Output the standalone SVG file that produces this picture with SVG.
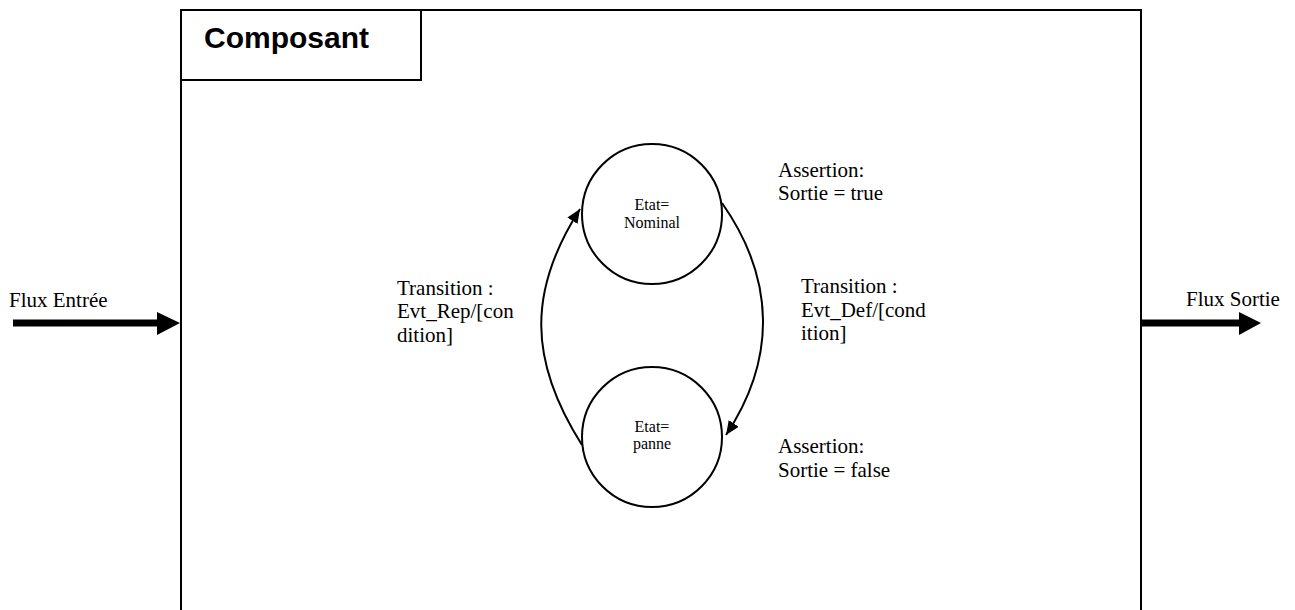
<svg xmlns="http://www.w3.org/2000/svg" width="1295" height="610" viewBox="0 0 1295 610">
<style>
.box{fill:#fff;stroke:#000;stroke-width:2}
.st{fill:#fff;stroke:#000;stroke-width:2}
.t{font-family:"Liberation Serif","Times New Roman",serif;font-size:21px;fill:#000}
.s{font-family:"Liberation Serif","Times New Roman",serif;font-size:16px;fill:#000;text-anchor:middle}
.c{fill:none;stroke:#000;stroke-width:2}
.flux{fill:none;stroke:#000;stroke-width:7}
</style>
<defs>
<marker id="ah" markerUnits="userSpaceOnUse" markerWidth="16" markerHeight="14" refX="14" refY="6" orient="auto">
<path d="M0,0 L14,6 L0,12 z" fill="#000"/>
</marker>
</defs>
<rect width="1295" height="610" fill="#fff"/>
<g id="composant">
<rect class="box" x="181" y="10" width="960" height="640"/>
<rect class="box" x="181" y="10" width="240" height="70"/>
<text x="204" y="48" style="font-family:'Liberation Sans',Arial,sans-serif;font-size:30px;font-weight:bold">Composant</text>
</g>
<g id="nominal">
<circle class="st" cx="652" cy="214" r="70"/>
<text class="s" x="652" y="210">Etat=</text>
<text class="s" x="652" y="228">Nominal</text>
</g>
<g id="panne">
<circle class="st" cx="652" cy="437" r="70"/>
<text class="s" x="652" y="432">Etat=</text>
<text class="s" x="652" y="449">panne</text>
</g>
<g id="connectors">
<path class="c" d="M582,445 C528,360 528,290 580,209" marker-end="url(#ah)"/>
<path class="c" d="M722,203 C776,280 776,360 726,435" marker-end="url(#ah)"/>
<path class="flux" d="M13,323 H160"/>
<path d="M157,312 L180,323 L157,335 z" fill="#000"/>
<path class="flux" d="M1142,323 H1242"/>
<path d="M1239,312 L1261,323 L1239,335 z" fill="#000"/>
</g>
<g id="labels">
<text class="t" x="9" y="307">Flux Entrée</text>
<text class="t" x="1186" y="306">Flux Sortie</text>
<text class="t" x="397" y="295">Transition :</text>
<text class="t" x="397" y="318">Evt_Rep/[con</text>
<text class="t" x="397" y="342">dition]</text>
<text class="t" x="801" y="293">Transition :</text>
<text class="t" x="801" y="317">Evt_Def/[cond</text>
<text class="t" x="801" y="340">ition]</text>
<text class="t" x="778" y="177">Assertion:</text>
<text class="t" x="778" y="200">Sortie = true</text>
<text class="t" x="778" y="453">Assertion:</text>
<text class="t" x="778" y="477">Sortie = false</text>
</g>
</svg>
